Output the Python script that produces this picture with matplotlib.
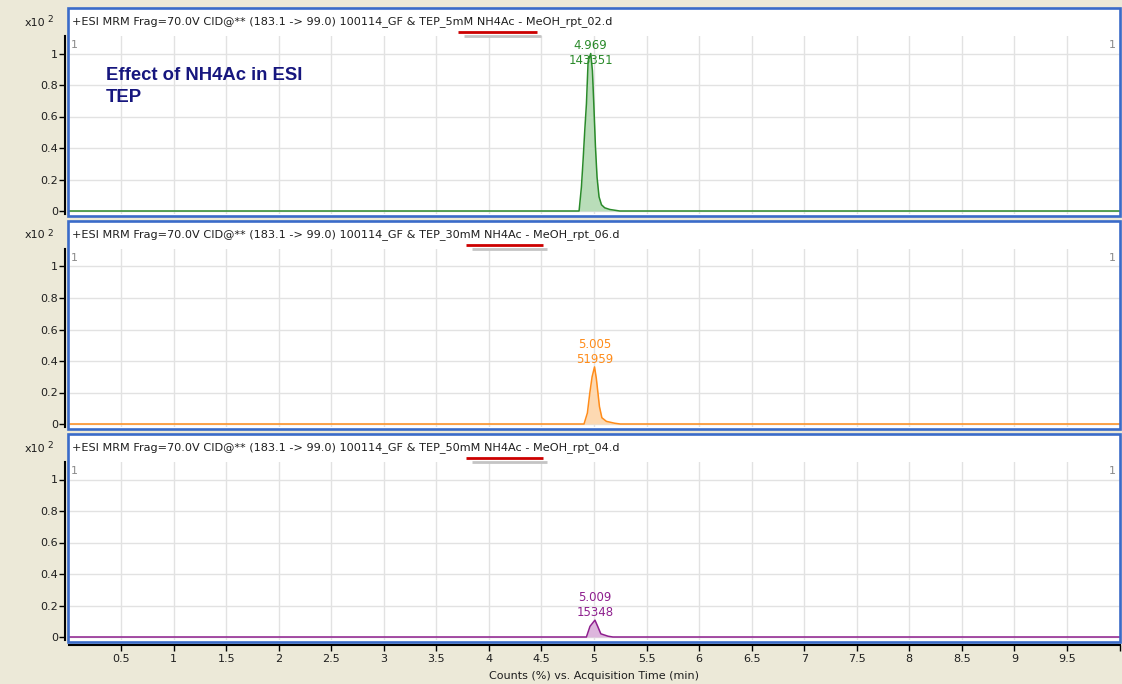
import matplotlib
matplotlib.use("Agg")
import matplotlib.pyplot as plt
from matplotlib.patches import Rectangle
from matplotlib.lines import Line2D
import numpy as np

# ---- data -------------------------------------------------------------
concentrations = ["5mM", "30mM", "50mM"]
run_ids = ["02", "06", "04"]
apex_times = [4.969, 5.005, 5.009]
apex_counts = [143351, 51959, 15348]
full_scale = 143351  # counts corresponding to 100 %

# chromatogram traces (time in min, counts)
trace1_t = [0, 4.858, 4.880, 4.896, 4.912, 4.928, 4.944, 4.969, 4.985, 4.998,
            5.014, 5.029, 5.048, 5.071, 5.102, 5.150, 5.245, 10]
trace1_c = [0, 0, 21500, 45900, 73100, 97500, 136200, 143351, 127600, 97500,
            58100, 30800, 12900, 5700, 2900, 1400, 0, 0]
trace2_t = [0, 4.905, 4.937, 4.960, 4.982, 5.005, 5.022, 5.037, 5.052, 5.075,
            5.118, 5.197, 5.25, 10]
trace2_c = [0, 0, 10000, 28200, 43000, 51959, 41600, 28700, 15800, 5700,
            2400, 700, 0, 0]
trace3_t = [0, 4.928, 4.962, 5.009, 5.035, 5.065, 5.134, 5.18, 10]
trace3_c = [0, 0, 9700, 15348, 9700, 2900, 700, 0, 0]
traces = [(trace1_t, trace1_c), (trace2_t, trace2_c), (trace3_t, trace3_c)]

line_colors = ["#2A8A2A", "#FF8C1A", "#8E1F8E"]
fill_colors = ["#B9DDB9", "#FDD9B2", "#DDB6DD"]

x_ticks = np.arange(0.5, 10.01, 0.5)
x_tick_labels = ["%g" % v for v in x_ticks[:-1]] + [""]
y_ticks = [0, 0.2, 0.4, 0.6, 0.8, 1.0]
y_tick_labels = ["0", "0.2", "0.4", "0.6", "0.8", "1"]

# underline spans (pixels) beneath the buffer concentration in each header
underline_x = [(458, 537), (466, 543), (466, 543)]

# ---- figure -----------------------------------------------------------
W, H = 1122, 684
BG = "#ECE9D8"
FRAME = "#3A6BC9"
TXT = "#1E1E1E"
fig = plt.figure(figsize=(W / 100, H / 100), dpi=100, facecolor=BG)


def fx(px):
    return px / W


def fy(py):
    return 1 - py / H


step = 213.0
x_left, x_right = 68.5, 1119.5
for i in range(3):
    off = i * step
    top, bottom, zero = 36 + off, 214 + off, 211 + off
    unit = 157.5

    # white panel with blue frame
    fr_top, fr_bot = 7.5 + off, 215.5 + off
    fig.add_artist(Rectangle((fx(67.5), fy(fr_bot)), fx(1120) - fx(67.5),
                             (fr_bot - fr_top) / H, transform=fig.transFigure,
                             facecolor="white", edgecolor="none", zorder=-1))
    fig.add_artist(Rectangle((fx(67.5), fy(fr_bot)), fx(1120) - fx(67.5),
                             (fr_bot - fr_top) / H, transform=fig.transFigure,
                             facecolor="none", edgecolor=FRAME, lw=1.9, zorder=5))

    ax = fig.add_axes([fx(x_left), fy(bottom), fx(x_right) - fx(x_left),
                       (bottom - top) / H])
    ax.set_facecolor("white")
    ax.set_xlim(0, 10)
    ax.set_ylim(-(bottom - zero) / unit, (zero - top) / unit)
    ax.set_xticks(x_ticks)
    ax.set_yticks(y_ticks)
    ax.set_yticklabels(y_tick_labels)
    ax.grid(True, color="#E2E2E2", lw=1.0)
    ax.set_axisbelow(True)
    for s in ("top", "right"):
        ax.spines[s].set_visible(False)
    ax.spines["left"].set_position(("outward", 2.2))
    ax.spines["left"].set_linewidth(1.5)
    ax.tick_params(axis="y", direction="out", length=4.3, width=1.0,
                   labelsize=8, labelcolor=TXT, pad=1)
    if i < 2:
        ax.spines["bottom"].set_visible(False)
        ax.tick_params(axis="x", length=0, labelbottom=False)
    else:
        ax.spines["bottom"].set_position(("outward", 3.6))
        ax.spines["bottom"].set_linewidth(1.5)
        ax.set_xticklabels(x_tick_labels)
        ax.tick_params(axis="x", direction="out", length=4.3, width=1.0,
                       labelsize=8, labelcolor=TXT, pad=2)
        ax.set_xlabel("Counts (%) vs. Acquisition Time (min)", fontsize=8,
                      color=TXT, labelpad=5)

    t, c = traces[i]
    y = np.asarray(c) / full_scale
    ax.fill_between(t, 0, y, color=fill_colors[i], lw=0, zorder=2)
    ax.plot(t, y, color=line_colors[i], lw=1.1, zorder=3)

    # apex annotation (kept inside the plotting area)
    apex_y = apex_counts[i] / full_scale
    label_top = min(apex_y + 0.185, 1.09)
    ax.text(apex_times[i], label_top, "%.3f\n%d" % (apex_times[i], apex_counts[i]),
            ha="center", va="top", fontsize=8.5, color=line_colors[i],
            linespacing=1.2, zorder=4)

    # panel header
    title = ("+ESI MRM Frag=70.0V CID@** (183.1 -> 99.0) 100114_GF & TEP_"
             + concentrations[i] + " NH4Ac - MeOH_rpt_" + run_ids[i] + ".d")
    fig.text(fx(72), fy(22 + off), title, fontsize=8.1, color=TXT,
             ha="left", va="center", zorder=6)
    fig.text(fx(45), fy(22.5 + off), "x10", fontsize=8, color=TXT,
             ha="right", va="center", zorder=6)
    fig.text(fx(47), fy(20 + off), "2", fontsize=6.5, color=TXT,
             ha="left", va="center", zorder=6)
    fig.text(fx(71), fy(45 + off), "1", fontsize=8, color="#8A8A8A",
             ha="left", va="center", zorder=6)
    fig.text(fx(1116), fy(45 + off), "1", fontsize=8, color="#8A8A8A",
             ha="right", va="center", zorder=6)

    # red underline with a soft grey shadow
    x0, x1 = underline_x[i]
    yl = 32 + off
    fig.add_artist(Line2D([fx(x0 + 6), fx(x1 + 4)], [fy(yl + 3.5)] * 2,
                          transform=fig.transFigure, color="#C4C4C4", lw=2.0,
                          solid_capstyle="butt", zorder=6))
    fig.add_artist(Line2D([fx(x0), fx(x1)], [fy(yl)] * 2,
                          transform=fig.transFigure, color="#CC0000", lw=2.0,
                          solid_capstyle="butt", zorder=7))

fig.text(fx(106), fy(75), "Effect of NH4Ac in ESI", fontsize=13.3,
         family="Liberation Sans", fontweight="bold", color="#16167E",
         ha="left", va="center")
fig.text(fx(106), fy(97), "TEP", fontsize=13.3, family="Liberation Sans",
         fontweight="bold", color="#16167E", ha="left", va="center")

fig.savefig("out.png", dpi=100, facecolor=BG)
